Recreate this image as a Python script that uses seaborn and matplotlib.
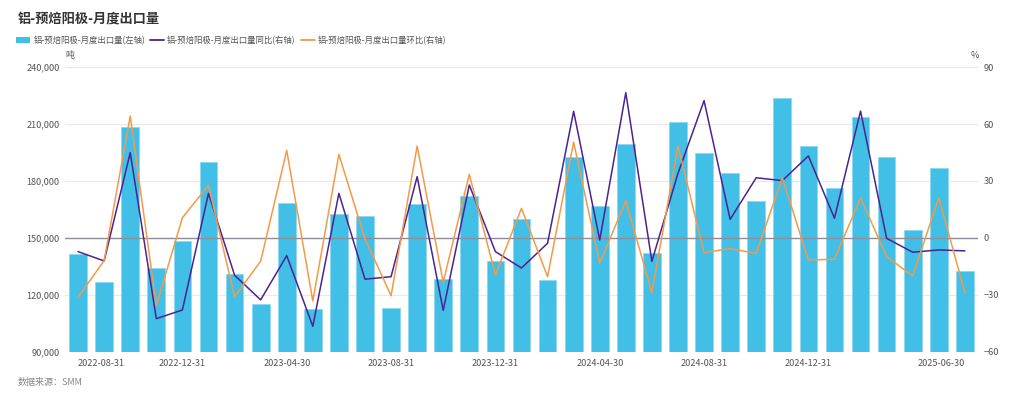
import numpy as np
import pandas as pd
import matplotlib
matplotlib.use('Agg')
import matplotlib.pyplot as plt
import seaborn as sns
from matplotlib.patches import Patch
from matplotlib.lines import Line2D
from matplotlib.ticker import FuncFormatter

# monthly data, 2022-08 .. 2025-06
dates = pd.date_range('2022-08-31', '2025-06-30', freq='ME').strftime('%Y-%m-%d').tolist()

volume = [141600, 126700, 208300, 134400, 148600, 189800, 131200, 115100, 168400, 112600,
          162500, 161800, 113000, 167900, 128400, 171900, 138100, 159800, 127700, 192500,
          166700, 199300, 142100, 211200, 194900, 184200, 169500, 223500, 198200, 176300,
          213500, 192500, 154000, 186700, 132500]

yoy = [-7.2, -12.1, 44.9, -42.5, -37.9, 23.5, -19.6, -32.6, -9.3, -46.5,
       23.5, -21.7, -20.4, 32.3, -38.1, 27.9, -7.2, -15.8, -2.8, 66.7,
       -1.1, 76.5, -12.3, 34.0, 72.3, 9.8, 31.7, 30.2, 43.2, 10.4,
       66.8, -0.2, -7.5, -6.3, -6.8]

mom = [-31.2, -11.9, 64.2, -35.6, 10.7, 27.7, -30.9, -12.3, 46.1, -33.2,
       44.0, -0.4, -30.4, 48.4, -23.3, 33.5, -19.5, 15.6, -20.4, 50.5,
       -13.3, 19.5, -28.8, 48.4, -7.7, -5.6, -8.1, 31.7, -11.6, -11.2,
       21.1, -9.8, -20.0, 21.2, -28.8]

name_bar = '铝-预焙阳极-月度出口量(左轴)'
name_yoy = '铝-预焙阳极-月度出口量同比(右轴)'
name_mom = '铝-预焙阳极-月度出口量环比(右轴)'

c_bar = '#41BFE6'
c_yoy = '#4B2391'
c_mom = '#F39A4A'

sns.set_theme(style='white')
plt.rcParams['font.family'] = ['Noto Sans CJK SC', 'DejaVu Sans']

df = pd.DataFrame({'date': dates, 'volume': volume, 'yoy': yoy, 'mom': mom})
df['pos'] = np.arange(len(df))

fig = plt.figure(figsize=(10.24, 3.99), dpi=100)
ax = fig.add_axes([0.0635, 0.118, 0.8915, 0.714])

sns.barplot(data=df, x='date', y='volume', color=c_bar, saturation=1, width=0.68,
            edgecolor='#8FD8F0', linewidth=0.6, ax=ax, zorder=2)
ax.set_ylim(90000, 240000)
ax.set_yticks(np.arange(90000, 240001, 30000))
ax.yaxis.set_major_formatter(FuncFormatter(lambda v, p: f'{int(v):,}'))
ax.grid(axis='y', color='#E9E9EC', linewidth=0.8, zorder=0)
ax.set_axisbelow(True)
ax.set_xlim(-0.5, len(df) - 0.5)

ax2 = ax.twinx()
ax2.axhline(0, color='#8E8E9A', linewidth=1.0, zorder=1)
sns.lineplot(data=df, x='pos', y='yoy', color=c_yoy, linewidth=1.1, ax=ax2, zorder=3)
sns.lineplot(data=df, x='pos', y='mom', color=c_mom, linewidth=1.1, ax=ax2, zorder=3)
ax2.set_ylim(-60, 90)
ax2.set_yticks(np.arange(-60, 91, 30))
ax2.set_xlim(-0.5, len(df) - 0.5)

tick_idx = [0, 4, 8, 12, 16, 20, 24, 28, 34]
ax.set_xticks(tick_idx)
ax.set_xticklabels([dates[i] for i in tick_idx])
labs = ax.get_xticklabels()
labs[0].set_ha('left')
labs[-1].set_ha('right')

for a in (ax, ax2):
    a.set_xlabel('')
    a.set_ylabel('')
    for s in a.spines.values():
        s.set_visible(False)
    a.tick_params(length=0, labelsize=6.6, labelcolor='#555555', pad=4)
ax.tick_params(axis='x', pad=5)

fig.text(0.068, 0.855, '吨', fontsize=6.5, color='#555555', ha='center')
fig.text(0.952, 0.855, '%', fontsize=6.5, color='#555555', ha='center')

fig.text(0.017, 0.94, '铝-预焙阳极-月度出口量', fontsize=9.5, fontweight='bold', color='#333333')
handles = [Patch(facecolor=c_bar, edgecolor='none'),
           Line2D([], [], color=c_yoy, linewidth=1.3),
           Line2D([], [], color=c_mom, linewidth=1.3)]
leg = fig.legend(handles, [name_bar, name_yoy, name_mom], loc='upper left',
                 bbox_to_anchor=(0.011, 0.922), ncol=3, frameon=False, fontsize=6.0,
                 handlelength=1.7, handleheight=0.7, handletextpad=0.35, columnspacing=0.6,
                 borderaxespad=0.2)
for t in leg.get_texts():
    t.set_color('#555555')

fig.text(0.017, 0.035, '数据来源：SMM', fontsize=6.5, color='#888888')

fig.savefig('out.png', dpi=100)
